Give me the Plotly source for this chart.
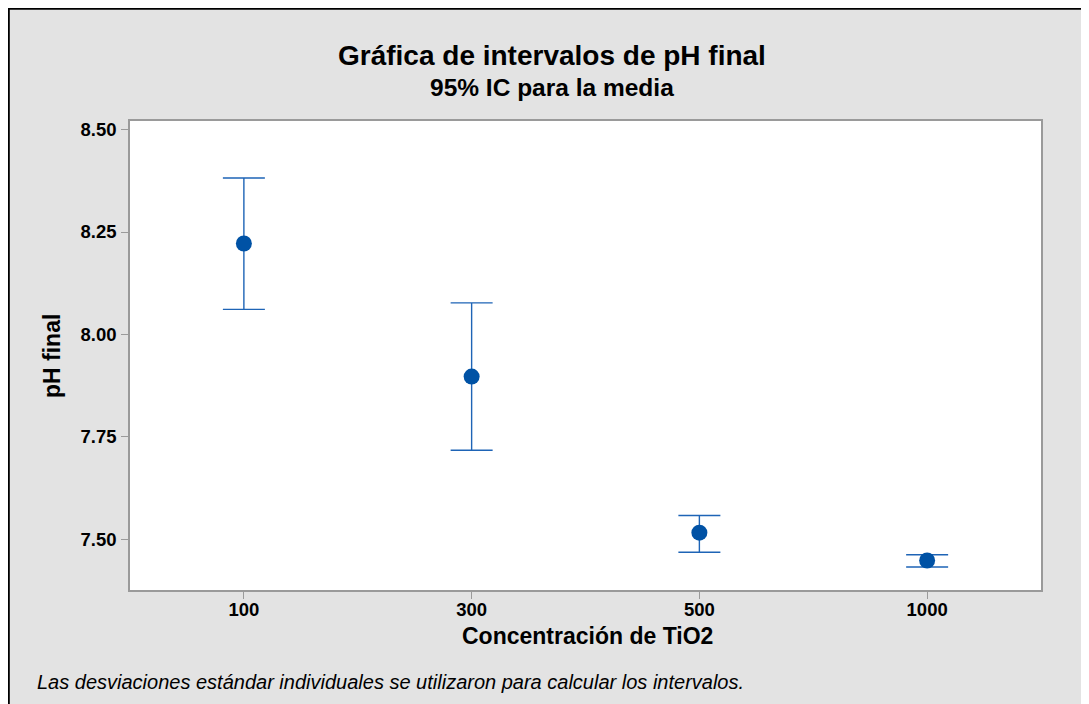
import plotly.graph_objects as go

# ---- data ----
categories = ["100", "300", "500", "1000"]
means = [8.222, 7.897, 7.516, 7.448]
upper = [8.382, 8.077, 7.558, 7.462]
lower = [8.061, 7.717, 7.468, 7.432]
y_ticks = [7.50, 7.75, 8.00, 8.25, 8.50]

title_text = "Gráfica de intervalos de pH final"
subtitle_text = "95% IC para la media"
x_title = "Concentración de TiO2"
y_title = "pH final"
footnote = "Las desviaciones estándar individuales se utilizaron para calcular los intervalos."

# page has an 8px body margin, so the figure is drawn 8px smaller and positions
# below are given in page pixels and converted
OFF = 8
W, H = 1089 - OFF, 704 - OFF
L, R, T, B = 122, 48, 113, 114
PW, PH = W - L - R, H - T - B

def xp(px):
    return (px - OFF - L) / PW

def yp(py):
    return (H - B - (py - OFF)) / PH

FONT = "Liberation Sans, Arial, sans-serif"

fig = go.Figure()
fig.add_trace(go.Scatter(
    x=categories, y=means, mode="markers",
    marker=dict(symbol="circle", size=16, color="#0052A5"),
    error_y=dict(type="data", symmetric=False,
                 array=[u - m for u, m in zip(upper, means)],
                 arrayminus=[m - l for m, l in zip(means, lower)],
                 color="#1E64B6", thickness=1.4, width=21),
    showlegend=False, hoverinfo="x+y",
))

shapes = [
    # black frame lines (left and top)
    dict(type="rect", xref="paper", yref="paper", x0=xp(OFF - 2), x1=xp(OFF + 1.8),
         y0=yp(OFF - 2), y1=yp(720), fillcolor="black", line_width=0, layer="above"),
    dict(type="rect", xref="paper", yref="paper", x0=xp(OFF - 2), x1=xp(1100),
         y0=yp(OFF - 2), y1=yp(OFF + 1.8), fillcolor="black", line_width=0, layer="above"),
]

annotations = [
    dict(text=f"<b>{title_text}</b>", x=xp(552), y=yp(56), xref="paper", yref="paper",
         showarrow=False, xanchor="center", yanchor="middle",
         font=dict(family=FONT, size=28, color="black")),
    dict(text=f"<b>{subtitle_text}</b>", x=xp(552), y=yp(88), xref="paper", yref="paper",
         showarrow=False, xanchor="center", yanchor="middle",
         font=dict(family=FONT, size=24.5, color="black")),
    dict(text=f"<b>{x_title}</b>", x=xp(587.5), y=yp(636), xref="paper", yref="paper",
         showarrow=False, xanchor="center", yanchor="middle",
         font=dict(family=FONT, size=23, color="black")),
    dict(text=f"<b>{y_title}</b>", x=xp(52), y=yp(356), xref="paper", yref="paper",
         showarrow=False, xanchor="center", yanchor="middle", textangle=-90,
         font=dict(family=FONT, size=23, color="black")),
    dict(text=f"<i>{footnote}</i>", x=xp(35), y=yp(682), xref="paper", yref="paper",
         showarrow=False, xanchor="left", yanchor="middle",
         font=dict(family=FONT, size=20, color="black")),
]

fig.update_layout(
    width=W, height=H,
    margin=dict(l=L, r=R, t=T, b=B, autoexpand=False),
    paper_bgcolor="#E3E3E3", plot_bgcolor="white",
    font=dict(family=FONT, color="black"),
    shapes=shapes, annotations=annotations,
    xaxis=dict(type="category", range=[-0.5, 3.5], showgrid=False, zeroline=False,
               showline=True, linecolor="#9A9A9A", linewidth=1.5, mirror=True,
               ticks="outside", ticklen=7, tickcolor="#9A9A9A", tickwidth=1,
               ticklabelstandoff=-5,
               tickfont=dict(family=FONT, size=18.5, color="black", weight="bold")),
    yaxis=dict(range=[7.376, 8.521], showgrid=False, zeroline=False,
               showline=True, linecolor="#9A9A9A", linewidth=1.5, mirror=True,
               ticks="outside", ticklen=7, tickcolor="#9A9A9A", tickwidth=1,
               tickvals=y_ticks, tickformat=".2f", ticklabelstandoff=1,
               tickfont=dict(family=FONT, size=18.5, color="black", weight="bold")),
)

fig.write_html("out.html")
